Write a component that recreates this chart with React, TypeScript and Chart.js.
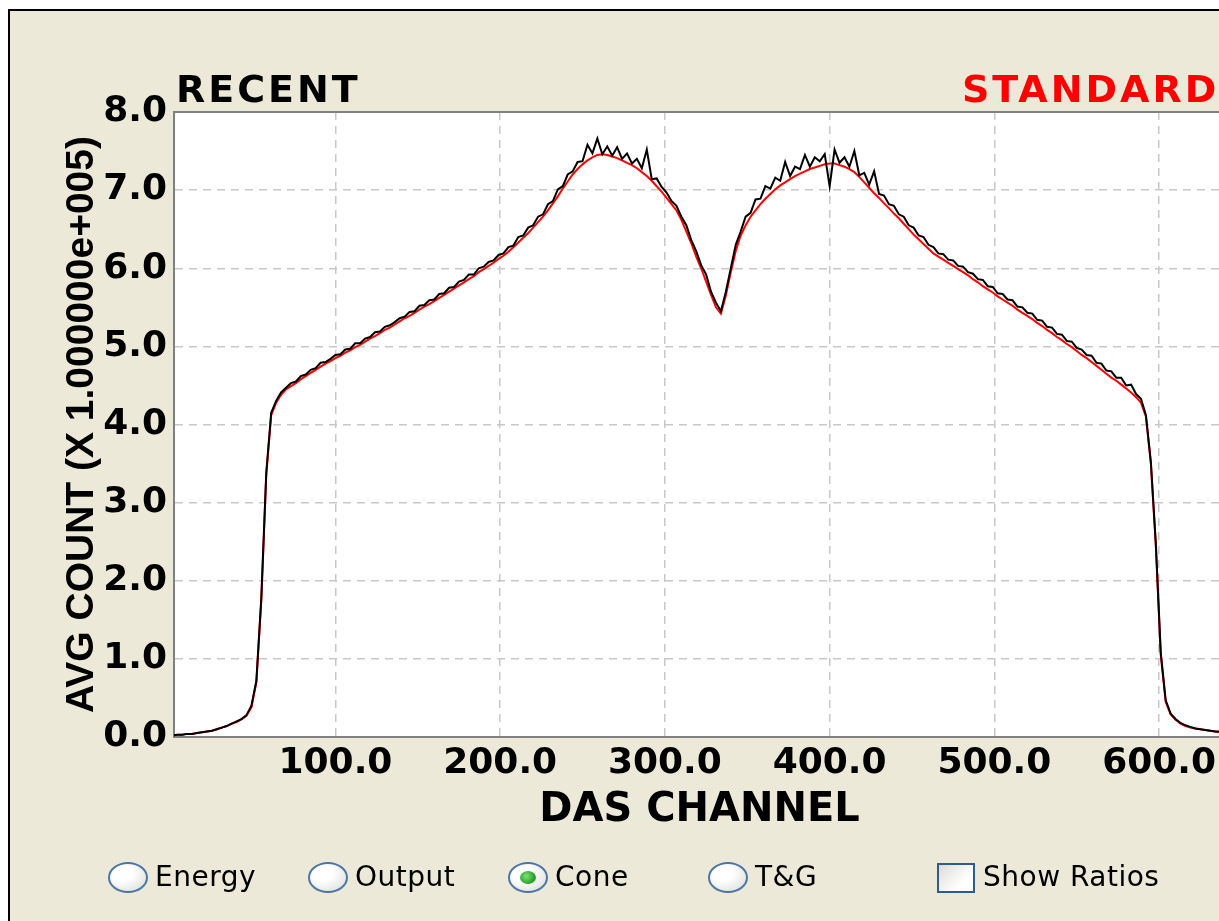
import React, { useEffect, useRef } from "react";
import { Chart, registerables } from "chart.js";

Chart.register(...registerables);

// DAS channel grid for the two series
const CHANNEL_START = 1;
const CHANNEL_STEP = 3;

// RECENT (black) average counts, x 1e5
const RECENT_VALUES = [
  0.02, 0.03, 0.03, 0.04, 0.04, 0.05, 0.06, 0.07, 0.08, 0.10,
  0.12, 0.14, 0.17, 0.20, 0.23, 0.28, 0.40, 0.72, 1.78, 3.38,
  4.15, 4.30, 4.41, 4.47, 4.53, 4.55, 4.62, 4.64, 4.70, 4.72,
  4.79, 4.80, 4.84, 4.89, 4.90, 4.96, 4.97, 5.04, 5.04, 5.10,
  5.12, 5.18, 5.19, 5.25, 5.27, 5.31, 5.36, 5.38, 5.44, 5.45,
  5.52, 5.53, 5.59, 5.60, 5.67, 5.68, 5.75, 5.76, 5.83, 5.85,
  5.92, 5.92, 6.00, 6.02, 6.08, 6.10, 6.17, 6.19, 6.27, 6.29,
  6.40, 6.42, 6.52, 6.55, 6.66, 6.69, 6.82, 6.86, 7.01, 7.05,
  7.20, 7.24, 7.36, 7.37, 7.58, 7.47, 7.66, 7.46, 7.56, 7.44,
  7.55, 7.40, 7.47, 7.34, 7.40, 7.28, 7.52, 7.14, 7.15, 7.04,
  6.97, 6.86, 6.80, 6.66, 6.55, 6.36, 6.22, 6.04, 5.92, 5.70,
  5.56, 5.45, 5.70, 6.00, 6.30, 6.47, 6.66, 6.71, 6.88, 6.89,
  7.05, 7.02, 7.16, 7.12, 7.36, 7.18, 7.30, 7.27, 7.45, 7.30,
  7.42, 7.37, 7.46, 7.05, 7.52, 7.35, 7.42, 7.30, 7.50, 7.19,
  7.22, 7.07, 7.24, 6.95, 6.93, 6.82, 6.80, 6.69, 6.66, 6.55,
  6.52, 6.42, 6.40, 6.30, 6.27, 6.19, 6.18, 6.11, 6.10, 6.03,
  6.02, 5.95, 5.93, 5.86, 5.85, 5.77, 5.76, 5.68, 5.67, 5.60,
  5.59, 5.51, 5.50, 5.43, 5.42, 5.34, 5.33, 5.25, 5.24, 5.16,
  5.15, 5.07, 5.06, 4.98, 4.96, 4.89, 4.88, 4.79, 4.78, 4.69,
  4.68, 4.60, 4.60, 4.50, 4.51, 4.39, 4.33, 4.12, 3.52, 2.48,
  1.08, 0.47, 0.30, 0.23, 0.18, 0.15, 0.13, 0.11, 0.10, 0.09,
  0.08, 0.07, 0.07, 0.06,
];

// STANDARD (red) average counts, x 1e5
const STANDARD_VALUES = [
  0.02, 0.03, 0.03, 0.04, 0.04, 0.05, 0.06, 0.07, 0.08, 0.10,
  0.12, 0.14, 0.17, 0.19, 0.23, 0.27, 0.38, 0.70, 1.75, 3.35,
  4.12, 4.28, 4.38, 4.45, 4.49, 4.53, 4.58, 4.62, 4.66, 4.70,
  4.74, 4.78, 4.81, 4.85, 4.88, 4.92, 4.95, 4.99, 5.02, 5.06,
  5.10, 5.13, 5.17, 5.21, 5.24, 5.28, 5.32, 5.36, 5.39, 5.43,
  5.47, 5.51, 5.54, 5.58, 5.62, 5.66, 5.70, 5.74, 5.78, 5.82,
  5.86, 5.90, 5.95, 5.99, 6.03, 6.07, 6.12, 6.16, 6.21, 6.27,
  6.33, 6.39, 6.45, 6.52, 6.59, 6.66, 6.74, 6.83, 6.92, 7.02,
  7.11, 7.20, 7.27, 7.33, 7.38, 7.42, 7.45, 7.46, 7.45, 7.43,
  7.41, 7.38, 7.35, 7.32, 7.28, 7.23, 7.18, 7.12, 7.05, 6.98,
  6.90, 6.82, 6.74, 6.62, 6.47, 6.32, 6.15, 6.00, 5.83, 5.66,
  5.50, 5.42, 5.65, 5.95, 6.22, 6.42, 6.55, 6.66, 6.74, 6.82,
  6.89, 6.95, 7.01, 7.06, 7.10, 7.14, 7.18, 7.21, 7.24, 7.27,
  7.29, 7.31, 7.33, 7.34, 7.34, 7.32, 7.30, 7.27, 7.23, 7.17,
  7.10, 7.03, 6.96, 6.90, 6.83, 6.77, 6.70, 6.64, 6.57, 6.50,
  6.43, 6.37, 6.31, 6.25, 6.19, 6.15, 6.11, 6.07, 6.03, 5.99,
  5.95, 5.91, 5.86, 5.82, 5.77, 5.73, 5.69, 5.64, 5.60, 5.56,
  5.52, 5.47, 5.43, 5.39, 5.35, 5.30, 5.26, 5.21, 5.17, 5.12,
  5.08, 5.03, 4.99, 4.94, 4.89, 4.85, 4.80, 4.75, 4.70, 4.65,
  4.60, 4.56, 4.51, 4.46, 4.41, 4.35, 4.28, 4.10, 3.50, 2.45,
  1.05, 0.45, 0.29, 0.22, 0.17, 0.14, 0.12, 0.11, 0.10, 0.09,
  0.08, 0.07, 0.06, 0.06,
];

const SERIES_NAMES = ["RECENT", "STANDARD"];
const SERIES_COLORS = ["#000000", "#ff0000"];
const X_TICKS = [100, 200, 300, 400, 500, 600];
const Y_TICKS = [0, 1, 2, 3, 4, 5, 6, 7, 8];
const X_MIN = 2;
const X_MAX = 640;
const X_TITLE = "DAS CHANNEL";
const Y_TITLE = "AVG COUNT (X 1.000000e+005)";
const VIEW_OPTIONS = ["Energy", "Output", "Cone", "T&G"];
const SELECTED_VIEW = "Cone";
const CHECKBOX_LABEL = "Show Ratios";

const BG = "#ece9d8";

const plotFrame = {
  id: "plotFrame",
  beforeDraw(chart: any) {
    const { ctx, chartArea: a } = chart;
    ctx.save();
    ctx.fillStyle = "#ffffff";
    ctx.fillRect(a.left, a.top, a.right - a.left, a.bottom - a.top);
    ctx.restore();
  },
  afterDraw(chart: any) {
    const { ctx, chartArea: a } = chart;
    ctx.save();
    ctx.strokeStyle = "#808080";
    ctx.lineWidth = 2;
    ctx.beginPath();
    ctx.moveTo(a.left - 1, a.top);
    ctx.lineTo(a.right, a.top);
    ctx.stroke();
    ctx.restore();
  },
};

function toPoints(values: number[]) {
  return values.map((v, i) => ({ x: CHANNEL_START + i * CHANNEL_STEP, y: v }));
}

function Radio({ left, label, checked }: { left: number; label: string; checked: boolean }) {
  return (
    <>
      <div
        style={{
          position: "absolute",
          left,
          top: 862,
          width: 36,
          height: 27,
          borderRadius: "50%",
          border: "2px solid #4a76a8",
          background: "radial-gradient(ellipse at 35% 35%, #ffffff 30%, #d8d8d2 100%)",
        }}
      >
        {checked && (
          <div
            style={{
              position: "absolute",
              left: 10,
              top: 7,
              width: 16,
              height: 13,
              borderRadius: "50%",
              background: "radial-gradient(circle at 40% 40%, #7ee07e 0%, #2aa82a 60%, #1f8a1f 100%)",
            }}
          />
        )}
      </div>
      <div
        style={{
          position: "absolute",
          left: left + 47,
          top: 863,
          fontFamily: "DejaVu Sans",
          fontSize: 28,
          lineHeight: "28px",
          letterSpacing: 0.5,
          color: "#000",
          whiteSpace: "nowrap",
        }}
      >
        {label}
      </div>
    </>
  );
}

export default function App() {
  const canvasRef = useRef<HTMLCanvasElement | null>(null);

  useEffect(() => {
    if (!canvasRef.current) return;
    const tickFont = { family: "DejaVu Sans", size: 36, weight: "bold" as const };
    const chart = new Chart(canvasRef.current, {
      type: "line",
      data: {
        datasets: [
          {
            label: SERIES_NAMES[0],
            data: toPoints(RECENT_VALUES),
            borderColor: SERIES_COLORS[0],
            borderWidth: 2,
            pointRadius: 0,
            tension: 0,
            fill: false,
          },
          {
            label: SERIES_NAMES[1],
            data: toPoints(STANDARD_VALUES),
            borderColor: SERIES_COLORS[1],
            borderWidth: 2,
            pointRadius: 0,
            tension: 0,
            fill: false,
          },
        ],
      },
      options: {
        responsive: false,
        animation: false,
        devicePixelRatio: 1,
        layout: { padding: { top: 112, left: 40, bottom: 74, right: 10 } },
        plugins: {
          legend: { display: false },
          tooltip: { enabled: false },
          title: { display: false },
        },
        scales: {
          x: {
            type: "linear",
            min: X_MIN,
            max: X_MAX,
            afterBuildTicks: (s: any) => {
              s.ticks = X_TICKS.map((v) => ({ value: v }));
            },
            afterFit: (s: any) => {
              s.height = 110;
            },
            ticks: {
              padding: 5,
              color: "#000",
              font: tickFont,
              maxRotation: 0,
              autoSkip: false,
              callback: (v: any) => Number(v).toFixed(1),
            },
            grid: { color: "#c8c8c8", lineWidth: 1.5, drawTicks: false },
            border: { display: true, color: "#808080", width: 2, dash: [8, 6] },
            title: {
              display: true,
              text: X_TITLE,
              color: "#000",
              font: { family: "DejaVu Sans", size: 40, weight: "bold" },
              padding: { top: 0, bottom: 12.5 },
            },
          },
          y: {
            type: "linear",
            min: 0,
            max: 8,
            afterBuildTicks: (s: any) => {
              s.ticks = Y_TICKS.map((v) => ({ value: v }));
            },
            afterFit: (s: any) => {
              s.width = 134;
            },
            ticks: {
              padding: 7,
              color: "#000",
              font: tickFont,
              callback: (v: any) => Number(v).toFixed(1),
            },
            grid: { color: "#c8c8c8", lineWidth: 1.5, drawTicks: false },
            border: { display: true, color: "#808080", width: 2, dash: [8, 6] },
            title: {
              display: true,
              text: Y_TITLE,
              color: "#000",
              font: { family: "Liberation Sans", size: 39, weight: "bold" },
              padding: { top: 18.6, bottom: 0 },
            },
          },
        },
      },
      plugins: [plotFrame],
    });
    return () => chart.destroy();
  }, []);

  const radioLefts = [108, 308, 508, 708];

  return (
    <div
      style={{
        position: "fixed",
        left: 0,
        top: 0,
        width: 1219,
        height: 921,
        overflow: "hidden",
        background: "#ffffff",
      }}
    >
      <div
        style={{
          position: "absolute",
          left: 8,
          top: 9,
          width: 1400,
          height: 1100,
          borderLeft: "2px solid #000",
          borderTop: "2px solid #000",
          background: BG,
        }}
      />
      <canvas
        ref={canvasRef}
        width={1235}
        height={921}
        style={{ position: "absolute", left: 0, top: 0, width: 1235, height: 921 }}
      />
      <div
        style={{
          position: "absolute",
          left: 176,
          top: 70,
          fontFamily: "DejaVu Sans",
          fontWeight: "bold",
          fontSize: 38,
          lineHeight: "38px",
          letterSpacing: 3,
          color: SERIES_COLORS[0],
          whiteSpace: "nowrap",
        }}
      >
        {SERIES_NAMES[0]}
      </div>
      <div
        style={{
          position: "absolute",
          left: 962,
          top: 70,
          fontFamily: "DejaVu Sans",
          fontWeight: "bold",
          fontSize: 38,
          lineHeight: "38px",
          letterSpacing: 3,
          color: SERIES_COLORS[1],
          whiteSpace: "nowrap",
        }}
      >
        {SERIES_NAMES[1]}
      </div>
      {VIEW_OPTIONS.map((label, i) => (
        <Radio key={label} left={radioLefts[i]} label={label} checked={label === SELECTED_VIEW} />
      ))}
      <div
        style={{
          position: "absolute",
          left: 937,
          top: 863,
          width: 34,
          height: 26,
          border: "2px solid #2c5d8f",
          background: "linear-gradient(135deg, #dcdcd6 0%, #ffffff 70%)",
        }}
      />
      <div
        style={{
          position: "absolute",
          left: 983,
          top: 863,
          fontFamily: "DejaVu Sans",
          fontSize: 28,
          lineHeight: "28px",
          letterSpacing: 0.5,
          color: "#000",
          whiteSpace: "nowrap",
        }}
      >
        {CHECKBOX_LABEL}
      </div>
    </div>
  );
}
